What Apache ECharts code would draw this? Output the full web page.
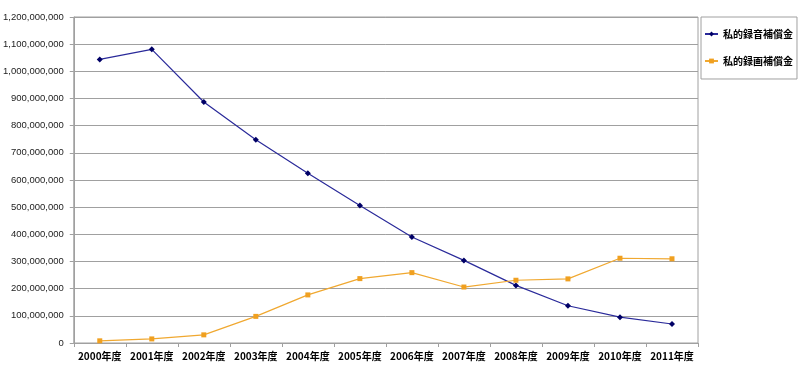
<!DOCTYPE html>
<html><head><meta charset="utf-8">
<script src="https://cdn.jsdelivr.net/npm/echarts@6/dist/echarts.min.js"></script>
<style>html,body{margin:0;padding:0;background:#fff}#c{width:800px;height:370px}</style>
</head><body><div id="c"></div>
<script>
const categories = ['2000年度','2001年度','2002年度','2003年度','2004年度','2005年度','2006年度','2007年度','2008年度','2009年度','2010年度','2011年度'];
const audioName = '私的録音補償金';
const videoName = '私的録画補償金';
const audioValues = [1044000000,1081000000,887000000,748000000,625000000,506000000,390000000,304000000,212000000,137000000,95000000,70000000];
const videoValues = [8000000,15000000,30000000,98000000,177000000,237000000,259000000,206000000,231000000,236000000,312000000,310000000];

const chart = echarts.init(document.getElementById('c'), null, {renderer:'canvas'});
chart.setOption({
  animation:false,
  backgroundColor:'#fff',
  textStyle:{fontFamily:'"Noto Sans CJK JP", "Liberation Sans", sans-serif'},
  grid:{left:71,right:102,top:17,bottom:27,show:true,borderColor:'#a0a0a0',borderWidth:1},
  legend:{
    orient:'vertical', left:701, top:17,
    padding:[12,4,13,3], itemGap:17, itemWidth:13, itemHeight:6,
    borderColor:'#a0a0a0', borderWidth:1,
    textStyle:{fontSize:10,fontWeight:'bold',color:'#000'},
    data:[audioName, videoName]
  },
  xAxis:{
    type:'category', data:categories, boundaryGap:true,
    axisLine:{lineStyle:{color:'#a0a0a0'}},
    axisTick:{show:true,length:4,lineStyle:{color:'#a0a0a0'}},
    axisLabel:{fontSize:10,fontWeight:'bold',color:'#000',margin:8,interval:0}
  },
  yAxis:{
    type:'value', min:0, max:1200000000, interval:100000000,
    axisLine:{show:true,lineStyle:{color:'#a0a0a0'}},
    axisTick:{show:true,length:4,lineStyle:{color:'#a0a0a0'}},
    splitLine:{lineStyle:{color:'#a0a0a0'}},
    axisLabel:{fontSize:9.5,color:'#222',margin:10,fontFamily:'"Liberation Sans", sans-serif',
      formatter:v=>v.toLocaleString('en-US')}
  },
  series:[
    {name:audioName,type:'line',data:audioValues,symbol:'diamond',symbolSize:6,
     lineStyle:{color:'#2a2a9a',width:1.2},itemStyle:{color:'#000066'}},
    {name:videoName,type:'line',data:videoValues,symbol:'rect',symbolSize:5,
     lineStyle:{color:'#f0a830',width:1.2},itemStyle:{color:'#f0a020'}}
  ]
});
</script></body></html>
